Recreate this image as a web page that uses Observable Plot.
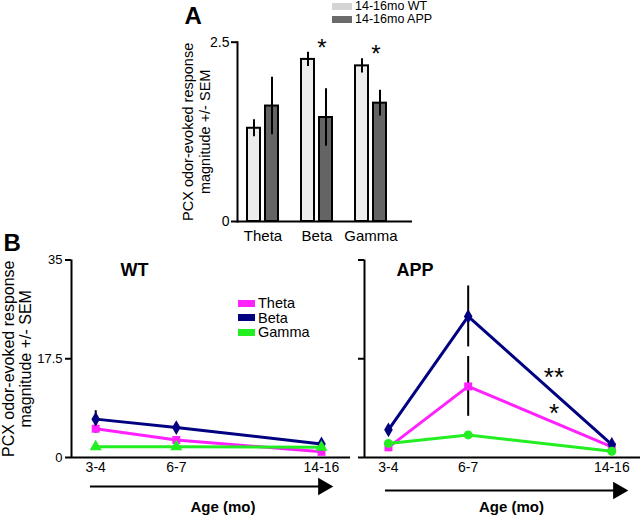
<!DOCTYPE html>
<html><head><meta charset="utf-8">
<script src="https://cdn.jsdelivr.net/npm/d3@7"></script>
<script src="https://cdn.jsdelivr.net/npm/@observablehq/plot@0.6"></script>
<style>
html,body{margin:0;padding:0;background:#fff;}
#fig{position:relative;width:640px;height:515px;overflow:hidden;background:#fff;}
#fig > *{position:absolute;margin:0;}
.lga-swatch{line-height:13px;padding-bottom:0;}
.lga-swatch > svg{margin-right:3px;}
.lga-swatch-label{overflow:visible !important;}
.lgb-swatch{line-height:14.5px;padding-bottom:0;}
.lgb-swatch > svg{margin-right:3px;}
.lgb-swatch-label{overflow:visible !important;}
</style></head><body><div id="fig"></div>
<script>
// ---------- Panel A data ----------
const bands = ["Theta", "Beta", "Gamma"];
const groupsA = ["14-16mo WT", "14-16mo APP"];
const wtMeanA = [1.30, 2.26, 2.17];
const wtSemA = [0.12, 0.10, 0.10];
const appMeanA = [1.61, 1.45, 1.65];
const appSemA = [0.40, 0.40, 0.18];
const sigA = ["", "*", "*"];
const yTicksA = [0, 2.5];
const yLabel = "PCX odor-evoked response\nmagnitude +/- SEM";

// ---------- Panel B data ----------
const ageLabels = ["3-4", "6-7", "14-16"];
const ageMonths = [3, 6, 14]; // lower bound of each age range (months)
const wtTheta = [5.1, 3.1, 1.0];
const wtThetaSem = [0.8, 0.4, 0.3];
const wtBeta = [6.8, 5.3, 2.4];
const wtBetaSem = [1.5, 0.5, 0.3];
const wtGamma = [1.9, 1.9, 1.8];
const wtGammaSem = [0.3, 0.3, 0.3];
const appTheta = [1.8, 12.6, 1.9];
const appThetaSem = [0.3, 5.3, 0.3];
const appBeta = [4.9, 25.0, 2.3];
const appBetaSem = [0.5, 5.4, 0.4];
const appGamma = [2.5, 4.0, 1.1];
const appGammaSem = [0.3, 0.5, 0.3];
const sigB = [{band: "Beta", label: "**"}, {band: "Theta", label: "*"}];
const yTicksB = [0, 17.5, 35];

// ---------- styling ----------
const font = "'Liberation Sans', Arial, Helvetica, sans-serif";
const barColors = ["#ececec", "#646464"];
const legendAColors = ["#d4d4d4", "#6a6a6a"];
const bandColors = ["#ff22ff", "#000080", "#22ee22"];
const ageDomain = [2.3, 16];
const svgStyle = {fontFamily: font, fontSize: "14px", color: "black", background: "transparent", overflow: "visible"};

const fig = document.getElementById("fig");
function place(el, left, top) { el.style.position = "absolute"; el.style.left = left + "px"; el.style.top = top + "px"; fig.appendChild(el); }

// ---------- Panel A ----------
const keyOf = (b, g) => `${b}|${g}`;
const xDomainA = bands.flatMap((b, i) => i < bands.length - 1 ? [keyOf(b, "WT"), keyOf(b, "APP"), keyOf(b, "gap")] : [keyOf(b, "WT"), keyOf(b, "APP")]);
const rowsA = bands.flatMap((b, i) => [
  {band: b, group: "WT", key: keyOf(b, "WT"), v: wtMeanA[i], sem: wtSemA[i]},
  {band: b, group: "APP", key: keyOf(b, "APP"), v: appMeanA[i], sem: appSemA[i]}
]);
const starsA = bands.map((b, i) => ({sig: sigA[i], key: keyOf(b, "APP"), y: wtMeanA[i] + wtSemA[i]})).filter(d => d.sig);

const plotA = Plot.plot({
  width: 640, height: 245,
  marginLeft: 237, marginRight: 228, marginTop: 41.7, marginBottom: 24,
  style: svgStyle,
  x: {type: "band", domain: xDomainA, paddingInner: 0.3, paddingOuter: 0.5, insetLeft: 1, insetRight: 17, axis: null},
  y: {domain: [0, 2.5], axis: null},
  color: {domain: ["WT", "APP"], range: barColors},
  marks: [
    Plot.barY(rowsA, {x: "key", y: "v", fill: "group", stroke: "black", strokeWidth: 2}),
    Plot.ruleX(rowsA, {x: "key", y1: d => d.v - d.sem, y2: d => d.v + d.sem, stroke: "black", strokeWidth: 2}),
    Plot.ruleY([0], {stroke: "black", strokeWidth: 2}),
    Plot.frame({anchor: "left", stroke: "black", strokeWidth: 2}),
    Plot.axisY({ticks: yTicksA, tickSize: 6, tickPadding: 2, strokeWidth: 2, label: null, fontSize: 14, tickFormat: d => String(d)}),
    Plot.text(bands, {x: b => keyOf(b, "WT"), frameAnchor: "bottom", lineAnchor: "top", dx: 9, dy: 9, fontSize: 15}),
    Plot.text(starsA, {x: "key", y: "y", text: "sig", dx: -4, dy: -4, fontSize: 24}),
    Plot.text([yLabel], {frameAnchor: "left", textAnchor: "middle", lineAnchor: "middle", rotate: -90, dx: -41.5, fontSize: 14.5, lineHeight: 1.17}),
    Plot.text(["A"], {frameAnchor: "top-left", textAnchor: "start", lineAnchor: "top", dx: -53, dy: -35, fontSize: 24, fontWeight: "bold"})
  ]
});
place(plotA, 0, 0);

const legendA = Plot.legend({
  color: {domain: groupsA, range: legendAColors},
  legend: "swatches", columns: 1, swatchWidth: 20, swatchHeight: 7, className: "lga",
  style: {fontFamily: font, fontSize: "12.5px", color: "black"}
});
place(legendA, 332, 0);

// ---------- Panel B ----------
function buildSeries(theta, thetaSem, beta, betaSem, gamma, gammaSem) {
  const src = {Theta: [theta, thetaSem], Beta: [beta, betaSem], Gamma: [gamma, gammaSem]};
  return bands.flatMap(b => ageMonths.map((a, i) => ({band: b, age: a, v: src[b][0][i], sem: src[b][1][i]})));
}
const rowsWT = buildSeries(wtTheta, wtThetaSem, wtBeta, wtBetaSem, wtGamma, wtGammaSem);
const rowsAPP = buildSeries(appTheta, appThetaSem, appBeta, appBetaSem, appGamma, appGammaSem);

const xMid = ((Math.sqrt(ageMonths[1]) + Math.sqrt(ageMonths[2])) / 2) ** 2;
const appByBand = {Theta: appTheta, Beta: appBeta, Gamma: appGamma};
const starsB = sigB.map(s => ({label: s.label, x: xMid, y: (appByBand[s.band][1] + appByBand[s.band][2]) / 2}));

function linePanel({rows, symbols, title, titleDx, width, marginLeft, marginRight, tickLabels, arrow, ageDx, extra}) {
  return Plot.plot({
    width, height: 285, marginLeft, marginRight, marginTop: 29.5, marginBottom: 58,
    style: svgStyle,
    x: {type: "sqrt", domain: ageDomain, axis: null},
    y: {domain: [0, 35], axis: null},
    color: {domain: bands, range: bandColors},
    symbol: {domain: bands, range: symbols},
    marks: [
      Plot.ruleY([0], {stroke: "black", strokeWidth: 2}),
      Plot.ruleX([ageDomain[0]], {stroke: "black", strokeWidth: 2}),
      Plot.axisY({ticks: yTicksB, tickSize: 6, tickPadding: 3, strokeWidth: 2, label: null, fontSize: 13,
        tickFormat: tickLabels ? (d => String(d)) : (() => "")}),
      Plot.axisX({ticks: ageMonths, tickSize: 0, tickPadding: 5, label: null, fontSize: 14,
        tickFormat: d => ageLabels[ageMonths.indexOf(d)]}),
      Plot.line(rows, {x: "age", y: "v", z: "band", stroke: "band", strokeWidth: 3}),
      Plot.ruleX(rows, {x: "age", y1: d => d.v - d.sem, y2: d => d.v + d.sem, stroke: "black", strokeWidth: 2}),
      Plot.dot(rows, {x: "age", y: "v", fill: "band", symbol: "band", r: 4.5}),
      Plot.text([title], {frameAnchor: "top-left", textAnchor: "start", lineAnchor: "top", dx: titleDx, dy: 3.5, fontSize: 18, fontWeight: "bold"}),
      Plot.ruleY([0], {dy: arrow.dy, insetLeft: arrow.insetLeft, insetRight: arrow.insetRight, stroke: "black", strokeWidth: 2}),
      Plot.dot([0], {frameAnchor: "bottom-right", dx: arrow.headDx, dy: arrow.dy, symbol: "triangle", rotate: 90, r: 6.5, fill: "black", stroke: "none"}),
      Plot.text(["Age (mo)"], {frameAnchor: "bottom", lineAnchor: "middle", dx: ageDx, dy: 50, fontSize: 15, fontWeight: "bold"}),
      ...extra
    ]
  });
}

const plotBL = linePanel({
  rows: rowsWT, symbols: ["square", "diamond", "triangle"], title: "WT", titleDx: 49,
  width: 357, marginLeft: 71, marginRight: 7, tickLabels: true,
  arrow: {dy: 29, insetLeft: 19, insetRight: 27, headDx: -27.3}, ageDx: 12,
  extra: [
    Plot.text([yLabel], {frameAnchor: "left", textAnchor: "middle", lineAnchor: "middle", rotate: -90, dx: -54.5, fontSize: 16, lineHeight: 1.06}),
    Plot.text(["B"], {frameAnchor: "top-left", textAnchor: "start", lineAnchor: "top", dx: -68, dy: -26.5, fontSize: 24, fontWeight: "bold"})
  ]
});
place(plotBL, 0, 230);

const plotBR = linePanel({
  rows: rowsAPP, symbols: ["square", "diamond", "circle"], title: "APP", titleDx: 32,
  width: 283, marginLeft: 7, marginRight: 0, tickLabels: false,
  arrow: {dy: 33, insetLeft: 21, insetRight: 22, headDx: -22.3}, ageDx: 9,
  extra: [
    Plot.text(starsB, {x: "x", y: "y", text: "label", dx: 14, dy: -3, fontSize: 26})
  ]
});
place(plotBR, 357, 230);

const legendB = Plot.legend({
  color: {domain: bands, range: bandColors},
  legend: "swatches", columns: 1, swatchWidth: 17, swatchHeight: 7, className: "lgb",
  style: {fontFamily: font, fontSize: "14.5px", color: "black"}
});
place(legendB, 238, 296);
</script></body></html>
